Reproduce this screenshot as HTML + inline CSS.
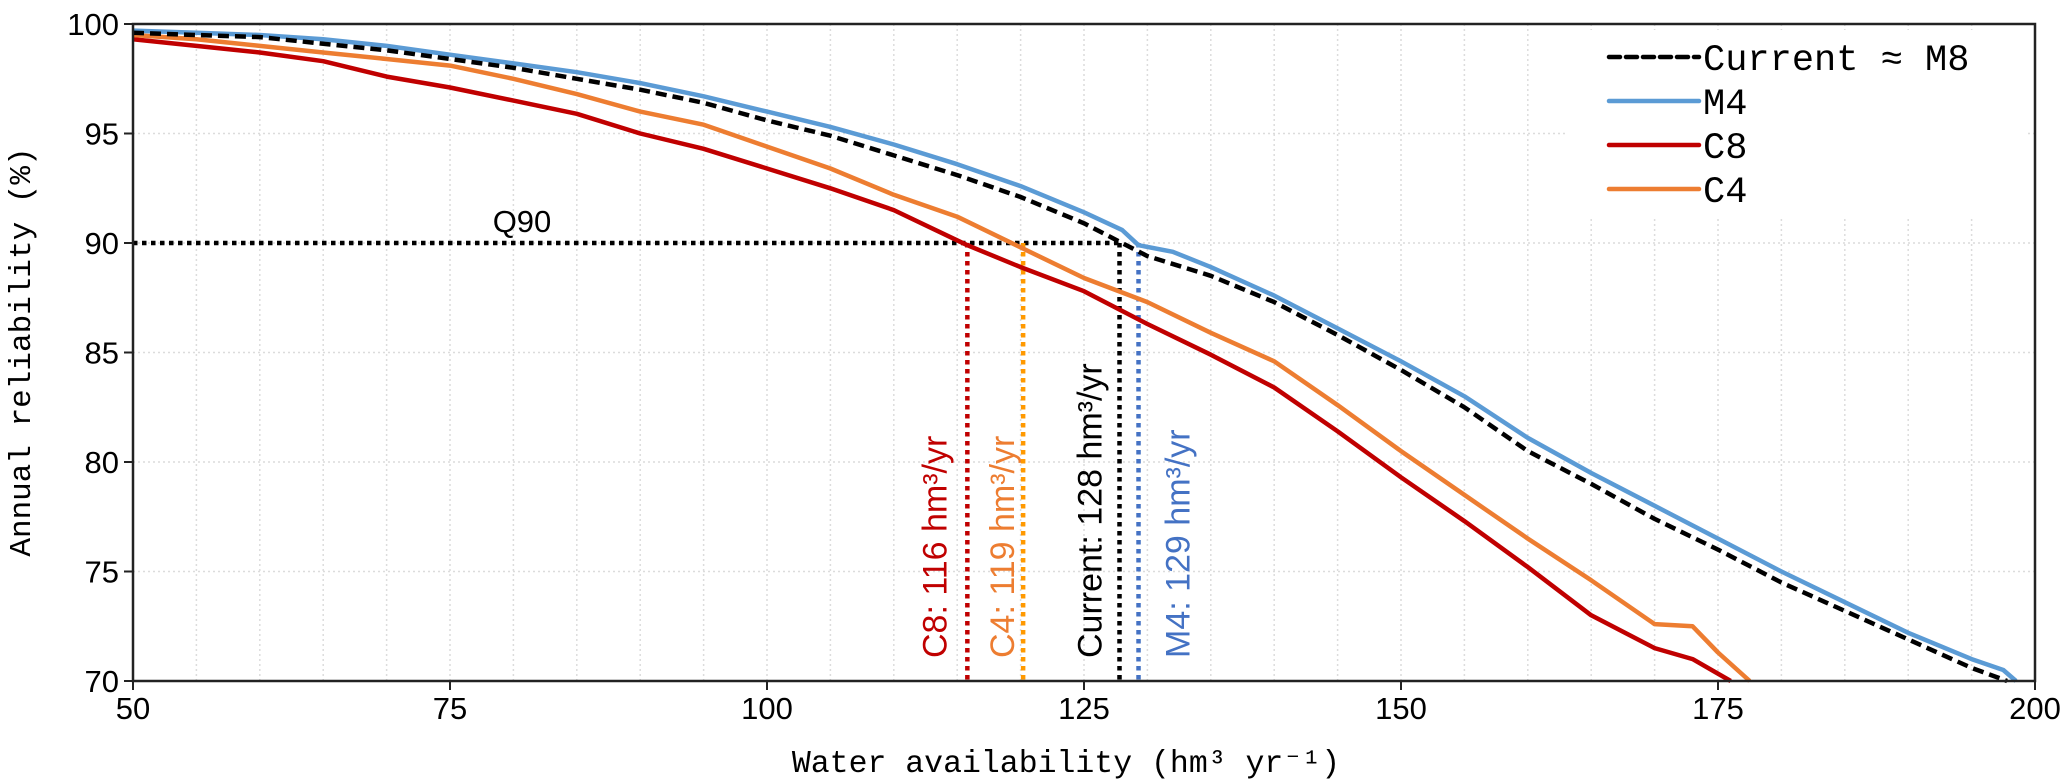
<!DOCTYPE html>
<html><head><meta charset="utf-8"><style>
html,body{margin:0;padding:0;background:#fff;width:2067px;height:784px;overflow:hidden}
svg{display:block}
.tick{font-family:"Liberation Sans",sans-serif;font-size:31px;fill:#000}
.mono{font-family:"Liberation Mono","DejaVu Sans Mono",monospace;fill:#000}
.ann{font-family:"Liberation Sans",sans-serif;font-size:34px}
</style></head><body>
<svg id="chart" width="2067" height="784" xmlns="http://www.w3.org/2000/svg"></svg>
<script>
const xTicks=[50,75,100,125,150,175,200];
const yTicks=[70,75,80,85,90,95,100];
const m4X=[50,55,60,65,70,75,80,85,90,95,100,105,110,115,120,125,128,129.3,132,135,140,145,150,155,160,165,170,175,180,185,190,195,197.5,198.5];
const m4Y=[99.7,99.6,99.5,99.3,99.0,98.6,98.2,97.8,97.3,96.7,96.0,95.3,94.5,93.6,92.6,91.4,90.6,89.9,89.6,88.9,87.6,86.1,84.6,83.0,81.1,79.5,78.0,76.5,75.0,73.6,72.2,71.0,70.5,70.0];
const curX=[50,55,60,65,70,75,80,85,90,95,100,105,110,115,120,125,128,130,135,140,145,150,155,160,165,170,175,180,185,190,195,197.8];
const curY=[99.6,99.5,99.4,99.1,98.8,98.4,98.0,97.5,97.0,96.4,95.6,94.9,94.0,93.1,92.1,90.9,90.0,89.4,88.5,87.3,85.8,84.2,82.5,80.5,79.0,77.4,76.0,74.5,73.2,71.9,70.6,70.0];
const c4X=[50,55,60,65,70,75,80,85,90,95,100,105,110,115,120,125,130,135,140,145,150,155,160,165,170,173,175,177.5];
const c4Y=[99.5,99.3,99.0,98.7,98.4,98.1,97.5,96.8,96.0,95.4,94.4,93.4,92.2,91.2,89.8,88.4,87.3,85.9,84.6,82.6,80.5,78.5,76.5,74.6,72.6,72.5,71.3,70.0];
const c8X=[50,55,60,65,70,75,80,85,90,95,100,105,110,115.8,120,125,130,135,140,145,150,155,160,165,170,173,176];
const c8Y=[99.3,99.0,98.7,98.3,97.6,97.1,96.5,95.9,95.0,94.3,93.4,92.5,91.5,89.9,88.9,87.8,86.3,84.9,83.4,81.4,79.3,77.3,75.2,73.0,71.5,71.0,70.0];
const guideX=[115.8,120.2,127.8,129.3];
const guideLabels=["C8: 116 hm\u00b3/yr","C4: 119 hm\u00b3/yr","Current: 128 hm\u00b3/yr","M4: 129 hm\u00b3/yr"];
const guideColors=["#c00000","#ff9900","#000000","#4472c4"];
const labelColors=["#c00000","#ed7d31","#000000","#4472c4"];
const labelOffsets=[-32,-20,-29,40];

const X0=133,X1=2035,Y0=681,Y1=24;
const xs=v=>X0+(v-50)/150*(X1-X0);
const ys=v=>Y0-(v-70)/30*(Y0-Y1);
const svg=document.getElementById('chart');
const NS='http://www.w3.org/2000/svg';
function mk(tag,attrs){const e=document.createElementNS(NS,tag);for(const k in attrs)e.setAttribute(k,attrs[k]);svg.appendChild(e);return e;}

for(let v=55;v<200;v+=5){const g=mk('line',{x1:xs(v),x2:xs(v),y1:Y1,y2:Y0,stroke:'#dcdcdc','stroke-width':1.5,'stroke-dasharray':'2,3'});

}
for(let v=75;v<100;v+=5){const g=mk('line',{x1:X0,x2:X1,y1:ys(v),y2:ys(v),stroke:'#dcdcdc','stroke-width':1.5,'stroke-dasharray':'2,3'});

}

const lb=mk('rect',{x:1566,y:30,width:462,height:186,fill:'#fff'});



const q=mk('line',{x1:X0,x2:xs(127.8),y1:ys(90),y2:ys(90),stroke:'#000','stroke-width':4.5,'stroke-dasharray':'4.5,4.5'});


const qt=mk('text',{x:522,y:232,'text-anchor':'middle',class:'tick','font-size':33});qt.textContent='Q90';



guideX.forEach((g,i)=>{
 const l=mk('line',{x1:xs(g),x2:xs(g),y1:ys(90),y2:Y0,stroke:guideColors[i],'stroke-width':4.5,'stroke-dasharray':'4.5,4.5'});
 
 
 const tx=xs(g)+labelOffsets[i]+11, ty=658;
 const t=mk('text',{x:tx,y:ty,class:'ann',fill:labelColors[i],transform:`rotate(-90 ${tx} ${ty})`});
 t.textContent=guideLabels[i];
 
 
});

function series(X,Y,color,dash,name){
 const d=X.map((v,i)=>(i?'L':'M')+xs(v).toFixed(1)+','+ys(Y[i]).toFixed(1)).join(' ');
 const p=mk('path',{d:d,fill:'none',stroke:color,'stroke-width':4.5,'stroke-linejoin':'round'});
 if(dash)p.setAttribute('stroke-dasharray',dash);
 
 
}
series(c8X,c8Y,'#c00000',null,'c8-line');
series(c4X,c4Y,'#ed7d31',null,'c4-line');
series(m4X,m4Y,'#5b9bd5',null,'m4-line');
series(curX,curY,'#000',"11,6",'current-line');

const ax=mk('path',{d:`M${X0},${Y1} L${X1},${Y1} L${X1},${Y0} L${X0},${Y0} Z`,fill:'none',stroke:'#222','stroke-width':2.5});


xTicks.forEach(v=>{
 const l=mk('line',{x1:xs(v),x2:xs(v),y1:Y0,y2:Y0+9,stroke:'#222','stroke-width':2});
 
 
 const t=mk('text',{x:xs(v),y:719,'text-anchor':'middle',class:'tick'});t.textContent=v;
 
 
});
yTicks.forEach(v=>{
 const l=mk('line',{x1:X0-9,x2:X0,y1:ys(v),y2:ys(v),stroke:'#222','stroke-width':2});
 
 
 const t=mk('text',{x:X0-14,y:ys(v)+11,'text-anchor':'end',class:'tick'});t.textContent=v;
 
 
});

const xt=mk('text',{x:1066,y:772,'text-anchor':'middle',class:'mono','font-size':31.5});xt.textContent='Water availability (hm\u00b3 yr\u207b\u00b9)';


const yt=mk('text',{x:30,y:352,'text-anchor':'middle',class:'mono','font-size':31,transform:'rotate(-90 30 352)'});yt.textContent='Annual reliability (%)';



const legNames=['Current \u2248 M8','M4','C8','C4'];
const legColors=['#000','#5b9bd5','#c00000','#ed7d31'];
const legDash=['11,6',null,null,null];
legNames.forEach((n,i)=>{
 const y=57+i*44;
 const l=mk('line',{x1:1609,x2:1699,y1:y,y2:y,stroke:legColors[i],'stroke-width':4.5,'stroke-linecap':'round'});
 if(legDash[i])l.setAttribute('stroke-dasharray',legDash[i]);
 
 
 const t=mk('text',{x:1703,y:y+13,class:'mono','font-size':37});t.textContent=n;
 
 
});
</script>
</body></html>
